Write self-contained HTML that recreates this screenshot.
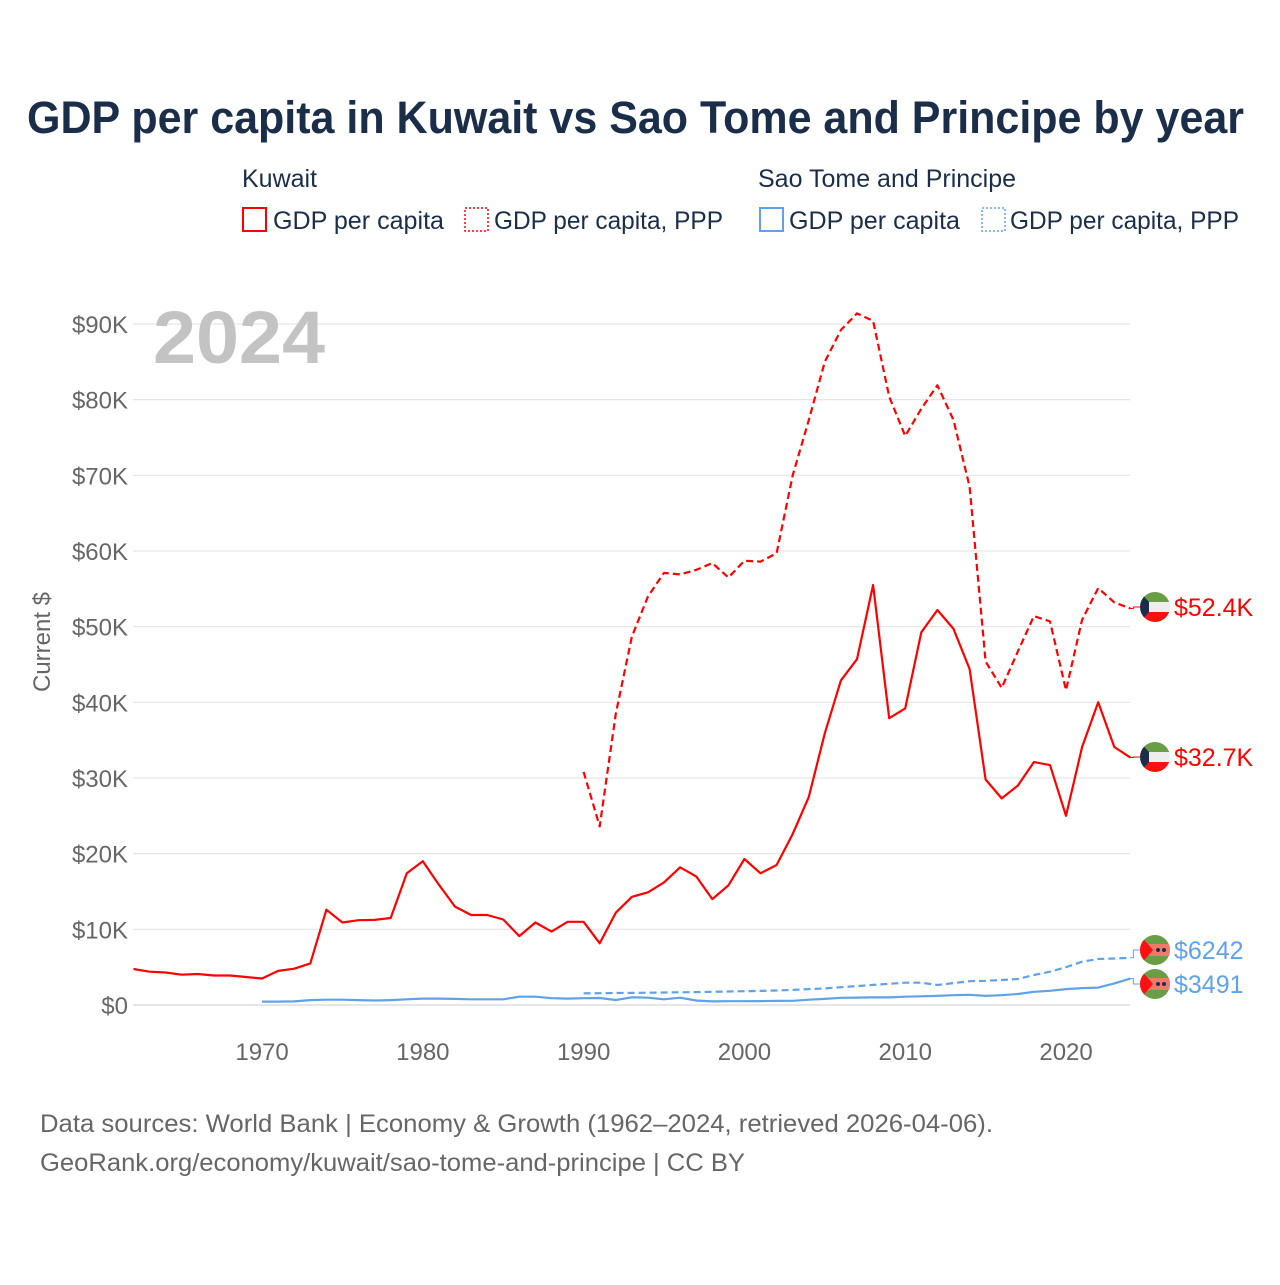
<!DOCTYPE html>
<html><head><meta charset="utf-8"><style>
body{margin:0;background:#fff;font-family:"Liberation Sans",sans-serif;}
svg text{font-family:"Liberation Sans",sans-serif;}
</style></head><body>
<svg id="chart" width="1280" height="1280" xmlns="http://www.w3.org/2000/svg">
<text x="27" y="133" textLength="1217" lengthAdjust="spacingAndGlyphs" font-size="45" font-weight="bold" fill="#1a2e4a">GDP per capita in Kuwait vs Sao Tome and Principe by year</text>
<g font-size="25" fill="#1a2e4a">
<text x="242" y="187">Kuwait</text>
<text x="758" y="187">Sao Tome and Principe</text>
<g><rect x="243" y="208" width="23" height="23" fill="none" stroke="#ff0000" stroke-width="2"/><text x="273" y="229" textLength="171" lengthAdjust="spacingAndGlyphs">GDP per capita</text></g>
<g><rect x="465" y="208" width="23" height="23" fill="none" stroke="#ff0000" stroke-width="1.5" stroke-dasharray="2,2"/><text x="494" y="229" textLength="229" lengthAdjust="spacingAndGlyphs">GDP per capita, PPP</text></g>
<g><rect x="760" y="208" width="23" height="23" fill="none" stroke="#5fa2e8" stroke-width="2"/><text x="789" y="229" textLength="171" lengthAdjust="spacingAndGlyphs">GDP per capita</text></g>
<g><rect x="982" y="208" width="23" height="23" fill="none" stroke="#5fa2e8" stroke-width="1.5" stroke-dasharray="2,2"/><text x="1010" y="229" textLength="229" lengthAdjust="spacingAndGlyphs">GDP per capita, PPP</text></g>
</g>
<g id="grid"></g>
<g id="yticks" font-size="24" fill="#666"></g>
<g id="xticks" font-size="24" fill="#666"></g>
<text transform="translate(50,642) rotate(-90)" text-anchor="middle" font-size="24" fill="#666">Current $</text>
<text x="153" y="363" font-size="74" font-weight="bold" fill="#c3c3c3" textLength="172" lengthAdjust="spacingAndGlyphs">2024</text>
<g id="series"></g>
<g id="labels"></g>
<text x="40" y="1132" font-size="25" fill="#666" textLength="953" lengthAdjust="spacingAndGlyphs">Data sources: World Bank | Economy &amp; Growth (1962–2024, retrieved 2026-04-06).</text>
<text x="40" y="1171" font-size="25" fill="#666" textLength="705" lengthAdjust="spacingAndGlyphs">GeoRank.org/economy/kuwait/sao-tome-and-principe | CC BY</text>
</svg>
<script>
const yTicks=[0,10000,20000,30000,40000,50000,60000,70000,80000,90000];
const yTickLabels=["$0","$10K","$20K","$30K","$40K","$50K","$60K","$70K","$80K","$90K"];
const xTicks=[1970,1980,1990,2000,2010,2020];
const kwtStart=1962;
const kwtGdp=[4760,4400,4300,4000,4100,3900,3900,3700,3500,4500,4800,5500,12600,10900,11200,11250,11500,17400,19000,15900,13000,11900,11900,11300,9100,10900,9700,11000,11000,8150,12200,14300,14900,16200,18200,17000,14000,15800,19300,17400,18500,22600,27500,35900,42900,45700,55500,37900,39200,49250,52200,49700,44400,29800,27300,29000,32100,31700,25000,34100,40000,34100,32700];
const kwtPppStart=1990;
const kwtPpp=[30800,23600,38500,48700,54000,57100,56900,57500,58400,56500,58700,58600,59700,70000,77300,85000,89200,91400,90400,80400,75200,78800,81900,77300,68500,45400,41900,46700,51400,50700,41600,50900,55100,53200,52400];
const stpStart=1970;
const stpGdp=[450,450,470,650,700,700,650,600,650,750,850,850,800,750,750,750,1100,1100,900,850,900,925,660,1020,960,750,960,590,480,500,500,520,540,550,700,800,950,980,1000,1000,1100,1150,1200,1300,1350,1200,1300,1450,1740,1870,2100,2230,2300,2850,3491];
const stpPppStart=1990;
const stpPpp=[1540,1560,1580,1600,1620,1650,1680,1710,1740,1780,1820,1860,1920,2000,2100,2200,2350,2500,2650,2800,2950,2950,2640,2900,3150,3200,3300,3430,3960,4400,5000,5720,6080,6150,6242];

const NS="http://www.w3.org/2000/svg";
const X0=133.4,Y0=1005;
function xs(yr){return X0+(yr-1962)*16.08;}
function ys(v){return Y0-v*0.007567;}
function el(t,a,p){const e=document.createElementNS(NS,t);for(const k in a)e.setAttribute(k,a[k]);p.appendChild(e);return e;}
const grid=document.getElementById('grid'),yt=document.getElementById('yticks'),xt=document.getElementById('xticks');
yTicks.forEach((v,i)=>{
  const l=el('line',{x1:133,x2:1130,y1:ys(v),y2:ys(v),stroke:'#e6e6e6','stroke-width':v===0?2:1.2},grid);
  
  
  const t=el('text',{x:128,y:ys(v)+9,'text-anchor':'end'},yt);t.textContent=yTickLabels[i];
  
  
});
xTicks.forEach(yr=>{
  const t=el('text',{x:xs(yr),y:1060,'text-anchor':'middle'},xt);t.textContent=yr;
  
  
});
const ser=document.getElementById('series');
function line(arr,start,color,dash,name){
  const d=arr.map((v,i)=>(i?'L':'M')+xs(start+i).toFixed(1)+','+ys(v).toFixed(1)).join('');
  const p=el('path',{d:d,fill:'none',stroke:color,'stroke-width':2.2,'stroke-dasharray':dash,'stroke-linejoin':'round'},ser);
  
  
}
line(kwtPpp,kwtPppStart,'#ff0000','7,4','kuwait-ppp-line');
line(kwtGdp,kwtStart,'#ff0000','none','kuwait-gdp-line');
line(stpPpp,stpPppStart,'#5fa2e8','7,4','stp-ppp-line');
line(stpGdp,stpStart,'#5fa2e8','none','stp-gdp-line');

const lab=document.getElementById('labels');
function flag(cx,cy,kind){
  const g=el('g',{},lab);
  const id='c'+Math.round(cy);
  const cp=el('clipPath',{id:id},g);el('circle',{cx:cx,cy:cy,r:15},cp);
  const f=el('g',{'clip-path':'url(#'+id+')'},g);
  if(kind==='kw'){
    el('rect',{x:cx-15,y:cy-15,width:30,height:10,fill:'#6a9e46'},f);
    el('rect',{x:cx-15,y:cy-5,width:30,height:10,fill:'#eee'},f);
    el('rect',{x:cx-15,y:cy+5,width:30,height:10,fill:'#ff1010'},f);
    el('path',{d:`M${cx-15},${cy-15}L${cx-6},${cy-5}L${cx-6},${cy+5}L${cx-15},${cy+15}Z`,fill:'#1a2e4a'},f);
  }else{
    el('rect',{x:cx-15,y:cy-15,width:30,height:30,fill:'#6a9e46'},f);
    el('rect',{x:cx-15,y:cy-6,width:30,height:12,fill:'#f07a6a'},f);
    el('path',{d:`M${cx-15},${cy-15}L${cx-2},${cy}L${cx-15},${cy+15}Z`,fill:'#ff1010'},f);
    el('circle',{cx:cx+3,cy:cy,r:2,fill:'#1a2e4a'},f);el('circle',{cx:cx+9,cy:cy,r:2,fill:'#1a2e4a'},f);
  }
  return g;
}
function endLabel(val,start,arr,ly,kind,color,txt,name){
  const x1=xs(start+arr.length-1),y1=ys(val);
  const c=el('path',{d:`M${x1},${y1}L${x1+3},${y1}L${x1+3},${ly}L1140,${ly}`,fill:'none',stroke:color,'stroke-width':1},lab);
  
  
  const f=flag(1155,ly,kind);
  
  
  const t=el('text',{x:1174,y:ly+9,'font-size':25,fill:color},lab);t.textContent=txt;
  
  
}
endLabel(kwtPpp[kwtPpp.length-1],kwtPppStart,kwtPpp,607,'kw','#ff0000','$52.4K','kuwait-ppp-end');
endLabel(kwtGdp[kwtGdp.length-1],kwtStart,kwtGdp,757,'kw','#ff0000','$32.7K','kuwait-gdp-end');
endLabel(stpPpp[stpPpp.length-1],stpPppStart,stpPpp,950,'st','#5fa2e8','$6242','stp-ppp-end');
endLabel(stpGdp[stpGdp.length-1],stpStart,stpGdp,984,'st','#5fa2e8','$3491','stp-gdp-end');
</script>
</body></html>
